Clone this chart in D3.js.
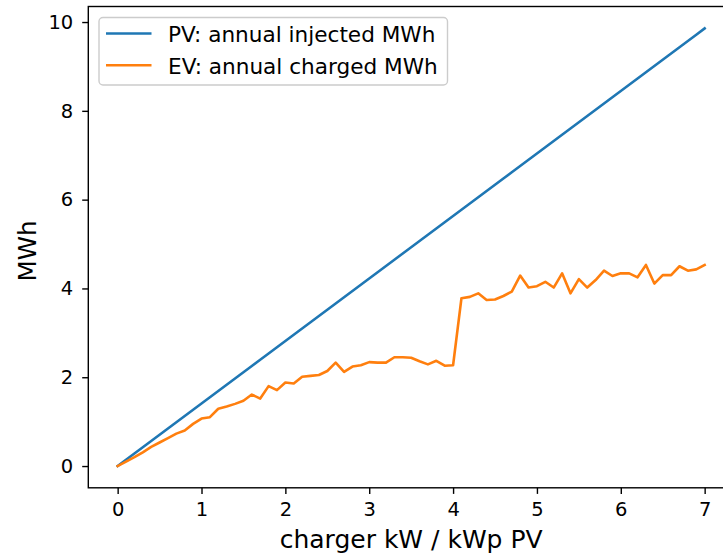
<!DOCTYPE html>
<html>
<head>
<meta charset="utf-8">
<script src="https://cdn.jsdelivr.net/npm/d3@7"></script>
<style>
  body { margin: 0; background: #fff; }
  svg { display: block; font-family: "DejaVu Sans", sans-serif; }
</style>
</head>
<body>
<div id="chart-area"></div>
<script>
// charger kW / kWp PV (x values)
var ratio = [0.0, 0.1, 0.2, 0.3, 0.4, 0.5, 0.6, 0.7, 0.8, 0.9,
             1.0, 1.1, 1.2, 1.3, 1.4, 1.5, 1.6, 1.7, 1.8, 1.9,
             2.0, 2.1, 2.2, 2.3, 2.4, 2.5, 2.6, 2.7, 2.8, 2.9,
             3.0, 3.1, 3.2, 3.3, 3.4, 3.5, 3.6, 3.7, 3.8, 3.9,
             4.0, 4.1, 4.2, 4.3, 4.4, 4.5, 4.6, 4.7, 4.8, 4.9,
             5.0, 5.1, 5.2, 5.3, 5.4, 5.5, 5.6, 5.7, 5.8, 5.9,
             6.0, 6.1, 6.2, 6.3, 6.4, 6.5, 6.6, 6.7, 6.8, 6.9, 7.0];

// PV: annual injected MWh
var pvInjected = [0.000, 0.141, 0.282, 0.422, 0.563, 0.704, 0.845, 0.986, 1.126, 1.267,
                  1.408, 1.549, 1.690, 1.830, 1.971, 2.112, 2.253, 2.394, 2.534, 2.675,
                  2.816, 2.957, 3.098, 3.238, 3.379, 3.520, 3.661, 3.802, 3.942, 4.083,
                  4.224, 4.365, 4.506, 4.646, 4.787, 4.928, 5.069, 5.210, 5.350, 5.491,
                  5.632, 5.773, 5.914, 6.054, 6.195, 6.336, 6.477, 6.618, 6.758, 6.899,
                  7.040, 7.181, 7.322, 7.462, 7.603, 7.744, 7.885, 8.026, 8.166, 8.307,
                  8.448, 8.589, 8.730, 8.870, 9.011, 9.152, 9.293, 9.434, 9.574, 9.715, 9.856];

// EV: annual charged MWh
var evCharged = [0.00, 0.10, 0.20, 0.31, 0.43, 0.53, 0.63, 0.73, 0.80, 0.95,
                 1.07, 1.10, 1.29, 1.34, 1.40, 1.47, 1.61, 1.52, 1.80, 1.71,
                 1.88, 1.86, 2.01, 2.03, 2.05, 2.14, 2.33, 2.12, 2.24, 2.27,
                 2.34, 2.33, 2.33, 2.45, 2.45, 2.44, 2.36, 2.29, 2.37, 2.26,
                 2.27, 3.78, 3.81, 3.89, 3.74, 3.75, 3.83, 3.93, 4.29, 4.02,
                 4.05, 4.15, 4.02, 4.34, 3.89, 4.21, 4.02, 4.19, 4.40, 4.28,
                 4.34, 4.34, 4.25, 4.53, 4.11, 4.30, 4.30, 4.50, 4.40, 4.43, 4.53];

var xTicks = [0, 1, 2, 3, 4, 5, 6, 7];
var yTicks = [0, 2, 4, 6, 8, 10];
var seriesNames = ["PV: annual injected MWh", "EV: annual charged MWh"];
var colors = ["#1f77b4", "#ff7f0e"];

var W = 723, H = 557;
var plot = { left: 88.3, right: 734, top: 6.5, bottom: 487.8 };

var svg = d3.select("#chart-area")
    .append("svg")
        .attr("width", W)
        .attr("height", H);

// Scales (matplotlib style 5% margins)
var x = d3.scaleLinear()
    .domain([-0.35, 7.35])
    .range([plot.left, plot.right]);

var y = d3.scaleLinear()
    .domain([-0.49, 10.35])
    .range([plot.bottom, plot.top]);

// Lines
var line = function(vals) {
    return d3.line()
        .x(function(d, i) { return x(ratio[i]); })
        .y(function(d) { return y(d); })(vals);
};

[pvInjected, evCharged].forEach(function(vals, i) {
    svg.append("path")
        .attr("d", line(vals))
        .attr("fill", "none")
        .attr("stroke", colors[i])
        .attr("stroke-width", 2.6)
        .attr("stroke-linejoin", "round")
        .attr("stroke-linecap", "square");
});

// Frame
svg.append("rect")
    .attr("x", plot.left)
    .attr("y", plot.top)
    .attr("width", plot.right - plot.left)
    .attr("height", plot.bottom - plot.top)
    .attr("fill", "none")
    .attr("stroke", "#000")
    .attr("stroke-width", 1.4);

// X Axis
var xAxisCall = d3.axisBottom(x)
    .tickValues(xTicks)
    .tickSize(6.1)
    .tickPadding(8)
    .tickFormat(d3.format("d"));
var xg = svg.append("g")
    .attr("transform", "translate(0," + plot.bottom + ")")
    .call(xAxisCall);

// Y Axis
var yAxisCall = d3.axisLeft(y)
    .tickValues(yTicks)
    .tickSize(6.1)
    .tickPadding(9)
    .tickFormat(d3.format("d"));
var yg = svg.append("g")
    .attr("transform", "translate(" + plot.left + ",0)")
    .call(yAxisCall);

[xg, yg].forEach(function(g) {
    g.select(".domain").remove();
    g.selectAll(".tick line").attr("stroke", "#000").attr("stroke-width", 1.4);
    g.selectAll(".tick text")
        .attr("fill", "#000")
        .attr("font-size", "19.5px")
        .attr("font-family", "DejaVu Sans");
});

// X Label
svg.append("text")
    .attr("x", (plot.left + plot.right) / 2)
    .attr("y", 548)
    .attr("font-size", "25px")
    .attr("text-anchor", "middle")
    .attr("fill", "#000")
    .text("charger kW / kWp PV");

// Y Label
svg.append("text")
    .attr("transform", "translate(36,251) rotate(-90)")
    .attr("font-size", "24.5px")
    .attr("text-anchor", "middle")
    .attr("fill", "#000")
    .text("MWh");

// Legend
var legend = svg.append("g");
legend.append("rect")
    .attr("x", 99)
    .attr("y", 17.5)
    .attr("width", 348.5)
    .attr("height", 67.5)
    .attr("rx", 4)
    .attr("fill", "#fff")
    .attr("fill-opacity", 0.8)
    .attr("stroke", "#cccccc")
    .attr("stroke-width", 1.4);

seriesNames.forEach(function(name, i) {
    var cy = 33.5 + i * 31.7;
    legend.append("line")
        .attr("x1", 106)
        .attr("x2", 151.5)
        .attr("y1", cy)
        .attr("y2", cy)
        .attr("stroke", colors[i])
        .attr("stroke-width", 2.6);
    legend.append("text")
        .attr("x", 168)
        .attr("y", cy + 8.5)
        .attr("font-size", "21.6px")
        .attr("fill", "#000")
        .text(name);
});
</script>
</body>
</html>
